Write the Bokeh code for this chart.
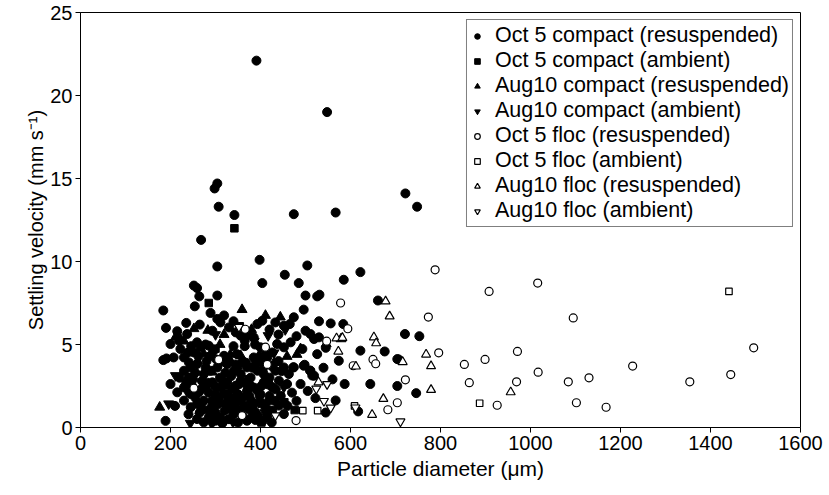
from bokeh.plotting import figure
from bokeh.models import FixedTicker, Legend, LegendItem, Range1d
from bokeh.embed import file_html
from bokeh.resources import INLINE

# ---------------- data ----------------
x_ticks = [0, 200, 400, 600, 800, 1000, 1200, 1400, 1600]
y_ticks = [0, 5, 10, 15, 20, 25]

# Oct 5 compact (resuspended) - filled circles
oct5_compact_res = [
    (391, 22.1), (548, 19.0), (304, 14.7), (298, 14.4), (307, 13.3), (342, 12.8), (474, 12.85), (567, 12.95),
    (722, 14.1), (748, 13.3), (268, 11.3), (304, 9.7), (398, 10.1), (504, 9.76), (622, 9.36), (454, 9.2),
    (404, 8.7), (485, 8.7), (585, 8.9), (252, 8.55), (259, 8.4), (264, 7.9), (304, 7.95), (500, 7.95),
    (526, 7.9), (531, 8.0), (661, 7.65), (184, 7.05), (254, 7.3), (289, 6.9), (496, 7.1), (319, 6.75),
    (190, 6.0), (404, 6.43), (393, 6.23), (433, 6.33), (452, 6.13), (465, 6.23), (474, 6.64), (304, 6.54),
    (311, 6.33), (500, 5.83), (511, 5.63), (530, 5.43), (519, 5.33), (556, 6.27), (584, 6.23), (237, 5.63),
    (219, 5.23), (200, 5.03), (191, 4.16), (184, 4.06), (259, 5.13), (285, 4.93), (365, 5.23), (385, 5.43),
    (400, 4.83), (437, 5.03), (452, 4.83), (467, 5.13), (493, 4.73), (526, 4.42), (574, 4.02), (622, 4.63),
    (676, 4.58), (704, 4.12), (721, 5.63), (753, 5.5), (319, 4.32), (348, 4.42), (385, 4.22), (415, 4.22),
    (426, 4.52), (474, 3.62), (496, 3.72), (511, 3.42), (519, 3.12), (230, 3.42), (245, 3.62), (259, 3.82),
    (274, 3.22), (289, 3.42), (304, 3.62), (326, 3.82), (341, 3.42), (356, 3.22), (370, 3.62), (393, 3.42),
    (407, 3.22), (433, 3.42), (452, 3.62), (463, 3.22), (200, 2.62), (215, 2.12), (230, 2.42), (245, 2.02),
    (263, 2.12), (278, 2.42), (293, 2.72), (311, 2.42), (326, 2.72), (345, 2.52), (356, 2.82), (378, 2.52),
    (393, 2.22), (407, 2.72), (426, 2.42), (441, 2.82), (459, 2.62), (489, 2.62), (587, 2.62), (644, 2.62),
    (704, 2.5), (746, 2.07), (230, 1.62), (245, 1.22), (259, 1.42), (274, 1.62), (285, 1.02), (296, 1.32),
    (307, 1.72), (322, 1.42), (333, 1.12), (348, 1.62), (363, 1.32), (378, 1.62), (389, 0.92), (404, 1.42),
    (419, 1.62), (426, 1.02), (441, 1.32), (522, 1.77), (567, 1.63), (617, 0.97), (189, 0.4), (259, 0.51),
    (274, 0.31), (285, 0.61), (300, 0.41), (315, 0.25), (370, 0.41), (389, 0.45), (415, 0.61), (452, 0.81),
    (207, 4.22), (230, 4.22), (241, 3.92), (252, 4.52), (267, 4.83), (222, 4.73), (330, 6.03), (345, 5.73),
    (356, 5.53), (293, 5.83), (473, 3.63), (498, 3.78), (510, 3.43), (515, 3.13), (707, 4.1), (280, 4.0),
    (295, 4.6), (310, 3.0), (335, 3.1), (350, 2.0), (365, 4.9), (375, 1.9), (400, 2.0), (410, 3.8),
    (420, 1.9), (300, 2.0), (320, 1.0), (340, 0.8), (355, 1.0), (375, 1.1), (395, 0.7), (270, 2.8),
    (250, 2.9), (235, 2.7), (220, 3.0), (210, 1.3), (240, 0.8), (255, 3.3), (285, 2.1), (318, 2.0),
    (340, 4.9), (360, 4.0), (378, 3.0), (398, 4.0), (420, 3.0), (440, 4.0), (445, 1.9), (460, 1.3),
    (470, 2.1), (480, 1.6), (505, 2.2), (540, 3.6), (560, 2.9), (545, 4.8), (530, 6.4), (480, 5.5),
    (440, 5.6), (420, 5.9), (388, 5.0), (372, 5.6), (340, 6.4), (265, 6.2), (246, 4.9), (215, 5.8),
    (235, 6.3), (278, 5.0), (292, 1.6), (355, 1.6), (330, 0.5), (350, 0.3), (300, 0.9), (545, 0.9),
    (238, 4.5), (262, 4.3), (288, 4.3), (302, 4.1), (330, 4.0), (345, 3.8), (368, 3.9), (382, 3.6),
    (405, 3.5), (425, 3.7), (447, 3.4), (248, 2.5), (268, 2.3), (282, 2.7), (298, 2.5), (314, 2.9),
    (338, 2.3), (352, 2.6), (370, 2.2), (386, 2.4), (402, 2.5), (416, 2.6), (434, 2.3), (255, 1.8),
    (270, 1.1), (290, 1.2), (305, 1.4), (328, 1.6), (342, 1.4), (360, 1.8), (383, 1.3), (398, 1.9),
    (412, 1.2), (432, 1.6), (290, 0.8), (310, 0.6), (360, 0.7), (380, 0.6), (405, 0.4), (425, 0.3),
    (265, 0.9), (278, 3.6), (322, 3.3), (390, 3.9), (412, 4.4),
]
# Oct 5 compact (ambient) - filled squares
oct5_compact_amb = [(342, 12.0), (285, 7.5), (354, 6.1), (453, 1.52), (476, 1.05), (317, 0.42),
                    (372, 2.9), (300, 4.75), (240, 3.05), (402, 0.3), (334, 1.8)]
# Aug10 compact (resuspended) - filled triangles
aug10_compact_res = [(359, 7.1), (252, 5.95), (283, 5.85), (319, 5.6), (211, 5.44), (222, 5.34), (411, 6.75),
                     (444, 6.65), (274, 4.44), (333, 4.4), (356, 4.33), (398, 4.4), (459, 4.28), (481, 4.4),
                     (293, 3.33), (176, 1.22), (418, 2.83), (579, 5.34), (489, 4.74), (546, 5.04), (238, 3.0),
                     (265, 1.0), (305, 0.6), (350, 2.0), (430, 3.9), (310, 5.0), (380, 5.9), (230, 5.2),
                     (260, 4.0), (325, 2.5), (345, 1.2), (385, 1.5)]
# Aug10 compact (ambient) - filled inverted triangles
aug10_compact_amb = [(211, 3.13), (196, 1.43), (244, 0.26), (339, 0.32), (452, 2.43), (396, 1.52), (330, 2.13),
                     (352, 3.63), (417, 5.54), (274, 1.52), (386, 5.2), (300, 5.6), (292, 0.2), (410, 0.9),
                     (236, 2.2), (365, 2.6), (430, 4.5), (455, 5.9), (312, 3.9)]
# Oct 5 floc (resuspended) - open circles
oct5_floc_res = [(788, 9.5), (908, 8.2), (1016, 8.7), (1095, 6.6), (773, 6.65), (796, 4.5), (722, 2.87),
                 (704, 1.49), (683, 1.07), (853, 3.8), (899, 4.1), (971, 4.58), (864, 2.7), (969, 2.75),
                 (1017, 3.33), (1084, 2.75), (1130, 2.99), (1227, 3.7), (926, 1.34), (1102, 1.49), (1168, 1.22),
                 (1496, 4.8), (1354, 2.75), (1445, 3.19), (411, 4.84), (415, 3.8), (366, 5.92), (307, 4.08),
                 (252, 2.37), (359, 0.72), (479, 0.42), (547, 5.2), (594, 5.95), (578, 7.5), (606, 3.72),
                 (650, 4.1), (656, 3.84)]
# Oct 5 floc (ambient) - open squares
oct5_floc_amb = [(1441, 8.2), (887, 1.46), (494, 1.02), (527, 1.02), (609, 1.3)]
# Aug10 floc (resuspended) - open triangles
aug10_floc_res = [(678, 7.6), (687, 6.7), (716, 3.95), (768, 4.4), (779, 3.7), (779, 2.27), (673, 1.73),
                  (956, 2.13), (648, 0.77), (569, 5.38), (573, 4.58), (612, 3.68), (652, 5.44), (657, 5.08),
                  (529, 2.73), (582, 5.4)]
# Aug10 floc (ambient) - open inverted triangles
aug10_floc_amb = [(711, 0.36), (524, 2.33), (548, 2.61), (541, 1.59), (556, 1.19), (611, 1.2), (433, 0.72),
                  (352, 6.05)]

series = [
    ("Oct 5 compact (resuspended)", oct5_compact_res, "circle", True, 9),
    ("Oct 5 compact (ambient)", oct5_compact_amb, "square", True, 7.5),
    ("Aug10 compact (resuspended)", aug10_compact_res, "triangle", True, 10),
    ("Aug10 compact (ambient)", aug10_compact_amb, "inverted_triangle", True, 10),
    ("Oct 5 floc (resuspended)", oct5_floc_res, "circle", False, 8),
    ("Oct 5 floc (ambient)", oct5_floc_amb, "square", False, 6.5),
    ("Aug10 floc (resuspended)", aug10_floc_res, "triangle", False, 9),
    ("Aug10 floc (ambient)", aug10_floc_amb, "inverted_triangle", False, 9),
]

FONT = "Liberation Sans"

p = figure(width=829, height=495, x_range=Range1d(0, 1600), y_range=Range1d(0, 25),
           output_backend="svg", toolbar_location=None,
           min_border_left=80, min_border_right=29, min_border_top=12, min_border_bottom=68)
p.xgrid.visible = False
p.ygrid.visible = False
p.outline_line_color = "black"
p.outline_line_width = 1
p.background_fill_color = "white"
p.border_fill_color = "white"

p.xaxis.ticker = FixedTicker(ticks=x_ticks)
p.yaxis.ticker = FixedTicker(ticks=y_ticks)
for ax in (p.xaxis[0], p.yaxis[0]):
    ax.axis_line_color = "black"
    ax.major_tick_line_color = "black"
    ax.minor_tick_line_color = None
    ax.major_tick_in = 0
    ax.major_tick_out = 5
    ax.major_label_text_font = FONT
    ax.major_label_text_font_size = "20px"
    ax.major_label_text_color = "black"
    ax.axis_label_text_font = FONT
    ax.axis_label_text_font_style = "normal"
    ax.axis_label_text_color = "black"
    ax.major_label_standoff = 3
p.xaxis[0].axis_label_text_font_size = "21px"
p.yaxis[0].axis_label_text_font_size = "20px"
p.xaxis[0].axis_label_standoff = 4
p.yaxis[0].axis_label_standoff = 0

p.xaxis.axis_label = "Particle diameter (\u03bcm)"
p.yaxis.axis_label = "Settling velocity (mm s\u207b\u00b9)"

items = []
for name, pts, marker, filled, size in series:
    xs = [a for a, b in pts]
    ys = [b for a, b in pts]
    r = p.scatter(xs, ys, marker=marker, size=size,
                  fill_color="black" if filled else "white",
                  line_color="black", line_width=1 if filled else 1.2)
    items.append(LegendItem(label=name, renderers=[r]))

legend = Legend(items=items, location="top_right", margin=7, padding=3, spacing=0,
                glyph_width=14, glyph_height=22, label_height=22, label_standoff=11,
                label_text_font=FONT, label_text_font_size="21.5px", label_text_color="black",
                border_line_color="black", border_line_width=1, background_fill_color="white",
                background_fill_alpha=1)
p.add_layout(legend)

open("out.html", "w").write(file_html(p, INLINE))
